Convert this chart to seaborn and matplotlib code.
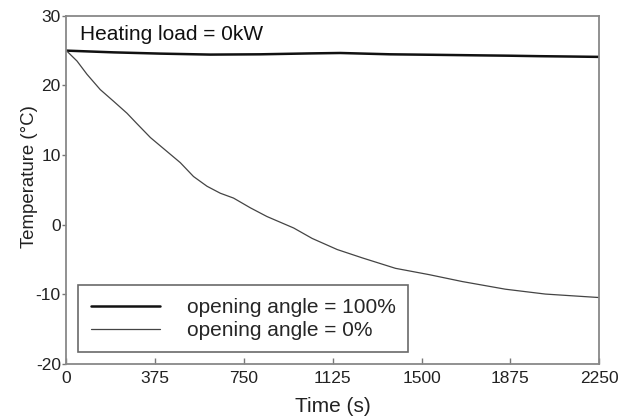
import matplotlib
matplotlib.use("Agg")
import matplotlib.pyplot as plt
import seaborn as sns
import pandas as pd

# Measured cabin temperature for the two opening angles
time_open = [0, 200, 397, 608, 819, 1030, 1157, 1368, 1550, 1718, 1870, 2001, 2130, 2250]
temp_open = [25.0, 24.75, 24.57, 24.43, 24.47, 24.6, 24.66, 24.47, 24.4, 24.33, 24.27,
             24.2, 24.15, 24.1]

time_closed = [0, 45, 87, 143, 200, 256, 298, 355, 425, 481, 537, 594, 650, 706, 777,
               847, 960, 1038, 1144, 1250, 1390, 1531, 1672, 1854, 2023, 2250]
temp_closed = [25.0, 23.5, 21.6, 19.4, 17.7, 16.0, 14.5, 12.5, 10.5, 8.9, 6.9, 5.5, 4.5,
               3.8, 2.4, 1.15, -0.5, -2.0, -3.6, -4.8, -6.3, -7.2, -8.2, -9.3, -10.0, -10.5]

series_names = ["opening angle = 100%", "opening angle = 0%"]
x_ticks = [0, 375, 750, 1125, 1500, 1875, 2250]
y_ticks = [-20, -10, 0, 10, 20, 30]

df = pd.concat([
    pd.DataFrame({"t": time_open, "T": temp_open, "case": series_names[0]}),
    pd.DataFrame({"t": time_closed, "T": temp_closed, "case": series_names[1]}),
])

sns.set_theme(style="white")
plt.rcParams["font.family"] = ["Liberation Sans", "DejaVu Sans"]
plt.rcParams["axes.unicode_minus"] = False

fig, ax = plt.subplots(figsize=(6.32, 4.17), dpi=100)
fig.subplots_adjust(left=0.105, right=0.948, top=0.962, bottom=0.128)

sns.lineplot(data=df, x="t", y="T", hue="case", size="case",
             palette={series_names[0]: "#111111", series_names[1]: "#444444"},
             sizes={series_names[0]: 1.8, series_names[1]: 0.9},
             ax=ax, estimator=None, sort=False)

ax.set_xlim(0, 2250)
ax.set_ylim(-20, 30)
ax.set_xticks(x_ticks)
ax.set_yticks(y_ticks)
ax.tick_params(axis="x", direction="in", length=4, width=1, color="#777777",
               labelsize=12.5, pad=5, top=False, bottom=True, labelcolor="#222222")
ax.tick_params(axis="y", direction="out", length=3, width=1, color="#777777",
               labelsize=12.5, pad=1, left=True, right=False, labelcolor="#222222")
for s in ax.spines.values():
    s.set_color("#888888")
    s.set_linewidth(1.3)

ax.set_xlabel("Time (s)", fontsize=15, labelpad=8, color="#222222")
ax.set_ylabel("Temperature (\u00b0C)", fontsize=13.4, color="#222222")
ax.yaxis.set_label_coords(-0.0525, 0.537)

ax.text(0.026, 0.946, "Heating load = 0kW", transform=ax.transAxes,
        fontsize=15, va="center", ha="left", color="#111111")

leg = ax.legend(loc="lower left", bbox_to_anchor=(0.0225, 0.032), borderaxespad=0,
                fontsize=15, handlelength=3.3, handletextpad=1.3, borderpad=0.6,
                labelspacing=0.2, fancybox=False, frameon=True, title=None)
leg.get_frame().set_edgecolor("#444444")
leg.get_frame().set_linewidth(1.2)
for line, w in zip(leg.get_lines(), [1.8, 0.9]):
    line.set_linewidth(w)

fig.savefig("out.png", dpi=100)
